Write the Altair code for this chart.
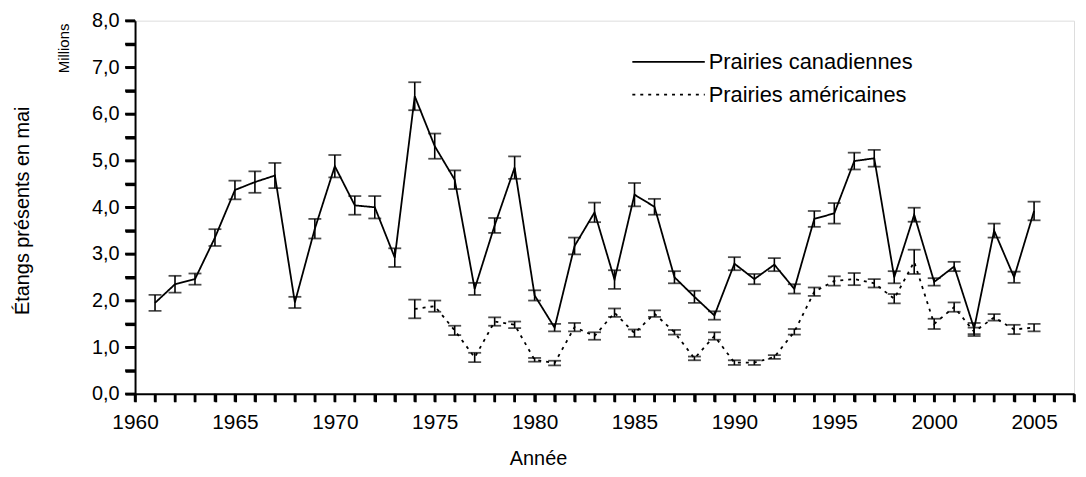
import altair as alt
import pandas as pd

# ---- data ----
years_ca = list(range(1961, 2006))
ponds_ca = [1.95, 2.35, 2.46, 3.35, 4.37, 4.54, 4.68, 1.96, 3.54, 4.88,
            4.04, 4.00, 2.92, 6.38, 5.31, 4.59, 2.25, 3.61, 4.85, 2.11,
            1.42, 3.17, 3.89, 2.45, 4.27, 4.01, 2.50, 2.08, 1.68, 2.79,
            2.46, 2.77, 2.25, 3.75, 3.87, 4.99, 5.05, 2.50, 3.84, 2.40,
            2.73, 1.40, 3.50, 2.50, 3.92]
err_ca = [0.17, 0.18, 0.12, 0.18, 0.20, 0.23, 0.27, 0.12, 0.21, 0.24,
          0.20, 0.24, 0.20, 0.30, 0.27, 0.20, 0.13, 0.16, 0.24, 0.11,
          0.08, 0.18, 0.21, 0.20, 0.25, 0.17, 0.13, 0.13, 0.09, 0.14,
          0.11, 0.14, 0.10, 0.17, 0.22, 0.18, 0.18, 0.13, 0.15, 0.08,
          0.10, 0.12, 0.15, 0.12, 0.20]

years_us = list(range(1974, 2006))
ponds_us = [1.82, 1.88, 1.36, 0.78, 1.55, 1.48, 0.73, 0.66, 1.43, 1.24,
            1.74, 1.30, 1.72, 1.32, 0.76, 1.24, 0.67, 0.67, 0.79, 1.33,
            2.19, 2.42, 2.46, 2.37, 2.04, 2.83, 1.50, 1.86, 1.33, 1.64,
            1.38, 1.42]
err_us = [0.20, 0.12, 0.10, 0.10, 0.09, 0.07, 0.04, 0.05, 0.09, 0.08,
          0.09, 0.08, 0.07, 0.05, 0.04, 0.08, 0.05, 0.05, 0.04, 0.06,
          0.09, 0.10, 0.13, 0.09, 0.10, 0.26, 0.11, 0.10, 0.09, 0.07,
          0.10, 0.08]

series_names = ["Prairies canadiennes", "Prairies américaines"]
x_ticks = list(range(1960, 2008))
y_ticks = [i / 2 for i in range(0, 17)]

rows = []
for y, v, e in zip(years_ca, ponds_ca, err_ca):
    rows.append({"series": series_names[0], "year": y, "value": v, "lo": v - e, "hi": v + e})
for y, v, e in zip(years_us, ponds_us, err_us):
    rows.append({"series": series_names[1], "year": y, "value": v, "lo": v - e, "hi": v + e})
df = pd.DataFrame(rows)

FONT = "Liberation Sans"
W, H = 946, 376

xscale = alt.Scale(domain=[1960, 2007], zero=False, nice=False)
yscale = alt.Scale(domain=[0, 8], nice=False, zero=True)

xaxis = alt.Axis(
    values=x_ticks,
    labelExpr="datum.value % 5 === 0 ? '' + datum.value : ''",
    labelOverlap=False,
    title="Année", titleFont=FONT, titleFontSize=20, titleFontWeight="normal",
    titleX=406, titleY=65, titleBaseline="middle", titleAlign="center",
    labelFont=FONT, labelFontSize=21, labelPadding=10, labelColor="black",
    ticks=True, tickSize=8, tickWidth=2.5, tickColor="black", tickOpacity=1,
    domainColor="black", domainWidth=2, grid=False, labelFlush=False,
)
yaxis = alt.Axis(
    values=y_ticks,
    labelExpr="datum.value % 1 === 0 ? replace(format(datum.value, '.1f'), '.', ',') : ''",
    labelOverlap=False,
    title="Étangs présents en mai", titleFont=FONT, titleFontSize=20, titleFontWeight="normal",
    titleX=-113, titleY=191, titleAngle=270, titleBaseline="middle", titleAlign="center",
    labelFont=FONT, labelFontSize=20, labelPadding=6, labelColor="black",
    ticks=True, tickSize=10, tickWidth=2.5, tickColor="black", tickOpacity=1,
    domainColor="black", domainWidth=2, grid=False,
)

X = alt.X("year:Q", scale=xscale, axis=xaxis)
base = alt.Chart(df)

lines = base.mark_line(color="black", strokeWidth=1.8).encode(
    x=X,
    y=alt.Y("value:Q", scale=yscale, axis=yaxis),
    strokeDash=alt.StrokeDash("series:N",
                              scale=alt.Scale(domain=series_names, range=[[1, 0], [3, 5]]),
                              legend=None),
    detail="series:N",
)

bars = base.mark_rule(color="black", strokeWidth=1.6).encode(
    x=X, y=alt.Y("lo:Q", scale=yscale, axis=yaxis), y2="hi:Q"
)
cap_lo = base.mark_tick(color="black", orient="horizontal", size=13, thickness=1.8).encode(
    x=X, y=alt.Y("lo:Q", scale=yscale, axis=yaxis)
)
cap_hi = base.mark_tick(color="black", orient="horizontal", size=13, thickness=1.8).encode(
    x=X, y=alt.Y("hi:Q", scale=yscale, axis=yaxis)
)

# explicit axis tick marks (one per year on x, every 0.5 on y)
xtick_marks = alt.Chart(pd.DataFrame({"year": x_ticks})).mark_rule(
    color="black", strokeWidth=2.5
).encode(x=X, y=alt.value(H), y2=alt.value(H + 8))
ytick_marks = alt.Chart(pd.DataFrame({"v": y_ticks})).mark_rule(
    color="black", strokeWidth=2.5
).encode(y=alt.Y("v:Q", scale=yscale, axis=yaxis), x=alt.value(-10), x2=alt.value(0))

# annotation "Millions"
millions = alt.Chart(pd.DataFrame({"t": ["Millions"]})).mark_text(
    angle=270, align="center", baseline="middle", font=FONT, fontSize=15, color="black"
).encode(x=alt.value(-72), y=alt.value(28), text="t:N")

# legend drawn manually
leg_solid = alt.Chart(pd.DataFrame({"k": [0]})).mark_rule(color="black", strokeWidth=1.8).encode(
    x=alt.value(501), x2=alt.value(574), y=alt.value(41.5))
leg_dot = alt.Chart(pd.DataFrame({"k": [0]})).mark_rule(color="black", strokeWidth=1.8,
                                                       strokeDash=[3, 5]).encode(
    x=alt.value(501), x2=alt.value(574), y=alt.value(74.5))
leg_t1 = alt.Chart(pd.DataFrame({"t": [series_names[0]]})).mark_text(
    align="left", baseline="middle", font=FONT, fontSize=22, color="black"
).encode(x=alt.value(578), y=alt.value(41.5), text="t:N")
leg_t2 = alt.Chart(pd.DataFrame({"t": [series_names[1]]})).mark_text(
    align="left", baseline="middle", font=FONT, fontSize=22, color="black"
).encode(x=alt.value(578), y=alt.value(74.5), text="t:N")

chart = alt.layer(lines, bars, cap_lo, cap_hi, xtick_marks, ytick_marks, millions,
                  leg_solid, leg_dot, leg_t1, leg_t2).properties(
    width=W, height=H,
    autosize=alt.AutoSizeParams(type="none"),
    padding={"left": 128, "top": 11, "right": 4, "bottom": 80},
).configure_view(stroke=None).configure(background="white")

chart.save("out.html", embed_options={"renderer": "svg", "actions": False})
